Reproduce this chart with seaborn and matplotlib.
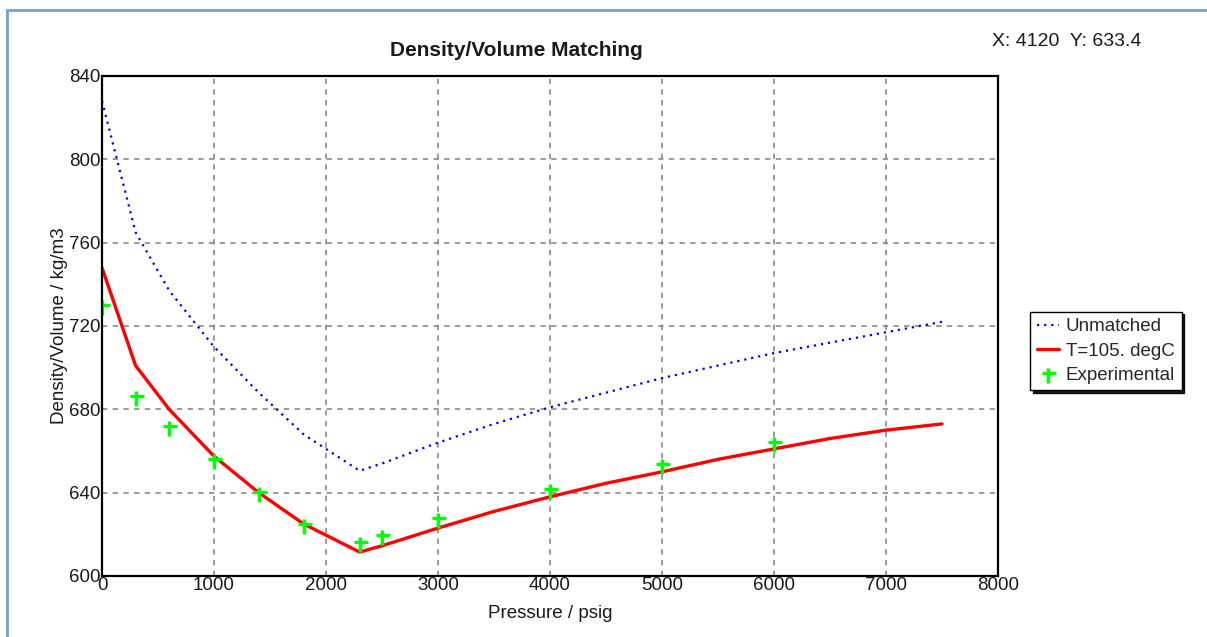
import numpy as np
import pandas as pd
import matplotlib
matplotlib.use("Agg")
import matplotlib.pyplot as plt
from matplotlib.path import Path
from matplotlib.patches import Rectangle
import seaborn as sns

# ---- data ----
pressure_calc = [0, 300, 600, 1000, 1400, 1800, 2300, 2500, 3000, 3500, 4000,
                 4500, 5000, 5500, 6000, 6500, 7000, 7500]
unmatched = [828, 765, 737, 710, 688, 668, 650.5, 654, 664, 673, 681,
             688, 695, 701, 707, 712, 717, 722]
matched = [748, 701, 680, 657.5, 640, 625, 611.5, 614.5, 623, 631, 638,
           644.5, 650, 656, 661, 666, 670, 673]
pressure_exp = [0, 300, 600, 1000, 1400, 1800, 2300, 2500, 3000, 4000, 5000, 6000]
density_exp = [730, 686.5, 672, 656, 640.5, 625, 616.5, 619.5, 628, 642, 654, 664.5]

title = "Density/Volume Matching"
xlabel = "Pressure / psig"
ylabel = "Density/Volume / kg/m3"
series_labels = ["Unmatched", "T=105. degC", "Experimental"]
readout = "X: 4120  Y: 633.4"
xticks = [0, 1000, 2000, 3000, 4000, 5000, 6000, 7000, 8000]
yticks = [600, 640, 680, 720, 760, 800, 840]

sns.set_theme(style="white")
plt.rcParams['font.family'] = ['Liberation Sans', 'DejaVu Sans']

W, H = 1207, 637
fig = plt.figure(figsize=(W / 100, H / 100), dpi=100)
fig.patch.set_facecolor("white")
ax = fig.add_axes([102 / W, 61 / H, 896 / W, 500 / H])

df_calc = pd.DataFrame({"p": pressure_calc, "u": unmatched, "m": matched})
df_exp = pd.DataFrame({"p": pressure_exp, "d": density_exp})

sns.lineplot(data=df_calc, x="p", y="u", ax=ax, color="#0000ff", lw=1.6,
             linestyle=(0, (1, 2.2)), label=series_labels[0], sort=False)
sns.lineplot(data=df_calc, x="p", y="m", ax=ax, color="#ff0000", lw=2.4,
             label=series_labels[1], sort=False)

cross = Path([(-0.62, 0), (0.87, 0), (0, 0.5), (0, -1.0)],
             [Path.MOVETO, Path.LINETO, Path.MOVETO, Path.LINETO])
sns.lineplot(data=df_exp, x="p", y="d", ax=ax, color="#00ff00", linestyle="",
             marker=cross, markersize=14, markeredgewidth=2.4,
             markeredgecolor="#00ff00", markerfacecolor="#00ff00",
             label=series_labels[2], sort=False)

ax.set_xlim(0, 8000)
ax.set_ylim(600, 840)
ax.set_xticks(xticks)
ax.set_yticks(yticks)
ax.set_xticklabels([str(t) for t in xticks])
ax.set_yticklabels([str(t) for t in yticks])
ax.tick_params(axis="both", length=0, pad=1, labelsize=13.5, colors="#1a1a1a")
ax.grid(True, color="#808080", linestyle=(0, (3.5, 3.5)), lw=1.1)
for s in ax.spines.values():
    s.set_color("black")
    s.set_linewidth(1.6)
    s.set_visible(True)

ax.set_xlabel(xlabel, fontsize=13.5, labelpad=8, color="#1a1a1a")
ax.set_ylabel(ylabel, fontsize=13.5, labelpad=1, color="#1a1a1a")

fig.text(516 / W, 1 - 50 / H, title, fontsize=15, fontweight="bold",
         ha="center", va="center", color="#1a1a1a")
fig.text(992 / W, 1 - 42 / H, readout, fontsize=14, ha="left",
         va="center", color="#1a1a1a")

leg = ax.legend(loc="center left", bbox_to_anchor=(1.036, 0.45), fontsize=13.5,
                frameon=True, fancybox=False, edgecolor="black",
                handlelength=1.2, handletextpad=0.35, borderpad=0.35,
                labelspacing=0.38, borderaxespad=0,
                shadow={"color": "black", "alpha": 0.9})
leg.get_frame().set_linewidth(1.0)

# outer frame of the chart area
fig.patches.append(Rectangle((7 / W, -0.05), 1.2, 1 - 10 / H + 0.05,
                             transform=fig.transFigure, fill=False,
                             edgecolor="#6fa3d8", lw=2, zorder=0))

fig.savefig("out.png", dpi=100)
